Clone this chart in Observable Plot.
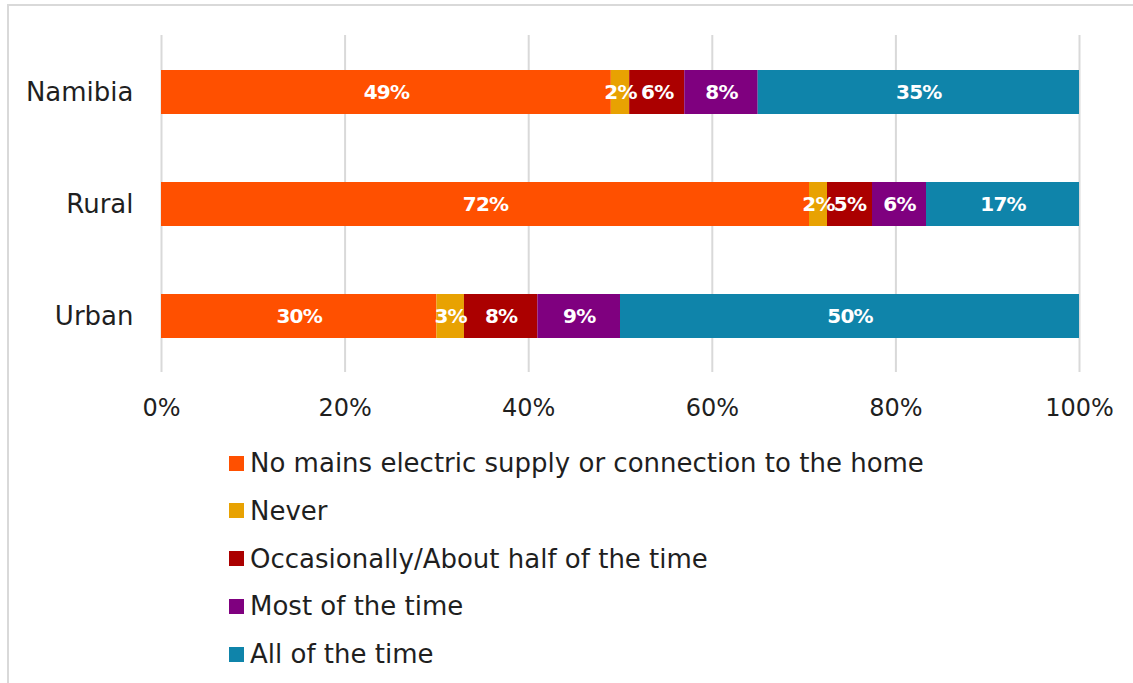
<!DOCTYPE html>
<html>
<head>
<meta charset="utf-8">
<script src="https://cdn.jsdelivr.net/npm/d3@7"></script>
<script src="https://cdn.jsdelivr.net/npm/@observablehq/plot@0.6"></script>
<style>
  html, body { margin: 0; padding: 0; width: 1133px; height: 683px; overflow: hidden; background: #fff; }
  #frame { position: absolute; left: 7px; top: 4px; width: 1150px; height: 720px; border: 2px solid #d9d9d9; box-sizing: border-box; }
  #chart { position: absolute; left: 0; top: 0; }
  #chart .seglabel text { letter-spacing: -0.8px; }
  #legend { position: absolute; left: 0; top: 0; font-family: "DejaVu Sans", sans-serif; font-size: 26px; color: #1f1f1f; }
  .item { position: absolute; left: 229px; height: 30px; display: flex; align-items: center; white-space: nowrap; }
  .sw { width: 15px; height: 15px; margin-right: 6px; flex: none; }
</style>
</head>
<body>
<div id="frame"></div>
<div id="chart"></div>
<div id="legend"></div>
<script>
const groups = ["Namibia", "Rural", "Urban"];
const categories = [
  "No mains electric supply or connection to the home",
  "Never",
  "Occasionally/About half of the time",
  "Most of the time",
  "All of the time"
];
const colors = ["#FF5000", "#E8A202", "#AB0000", "#7F007F", "#0F84AA"];
const namibia = [49, 2, 6, 8, 35];
const rural = [72, 2, 5, 6, 17];
const urban = [30, 3, 8, 9, 50];
const xTicks = [0, 0.2, 0.4, 0.6, 0.8, 1];

const series = [namibia, rural, urban];
const data = [];
groups.forEach((g, gi) => {
  categories.forEach((c, ci) => {
    data.push({ group: g, category: c, value: series[gi][ci] });
  });
});

const font = "DejaVu Sans";
const plot = Plot.plot({
  width: 1133,
  height: 440,
  marginTop: 35,
  marginBottom: 68,
  marginLeft: 161,
  marginRight: 54,
  style: { fontFamily: font, background: "transparent", color: "#1f1f1f" },
  x: { domain: [0, 1] },
  y: { domain: groups, paddingInner: 0.61, paddingOuter: 0.3 },
  color: { domain: categories, range: colors },
  marks: [
    Plot.ruleX(xTicks, { stroke: "#d9d9d9", strokeWidth: 2 }),
    Plot.barX(data, Plot.stackX({ x: "value", y: "group", fill: "category", offset: "normalize", order: null })),
    Plot.text(data, Plot.stackX({
      x: "value", y: "group", z: "category", offset: "normalize", order: null,
      text: d => d.value + "%",
      fill: "white", fontWeight: "bold", fontSize: 20
    })),
    Plot.axisX({ ticks: xTicks, tickSize: 0, tickPadding: 26, fontSize: 24, tickFormat: d => Math.round(d * 100) + "%", label: null }),
    Plot.axisY({ tickSize: 0, tickPadding: 28, fontSize: 26, label: null })
  ]
});
// tag the in-bar label group for tighter letter spacing
d3.select(plot).selectAll("g[aria-label='text']").attr("class", "seglabel");
document.getElementById("chart").appendChild(plot);

const legend = document.getElementById("legend");
categories.forEach((c, i) => {
  const row = document.createElement("div");
  row.className = "item";
  row.style.top = (463 + i * 47.75 - 15) + "px";
  const sw = document.createElement("span");
  sw.className = "sw";
  sw.style.background = colors[i];
  const tx = document.createElement("span");
  tx.textContent = c;
  row.appendChild(sw);
  row.appendChild(tx);
  legend.appendChild(row);
});
</script>
</body>
</html>
